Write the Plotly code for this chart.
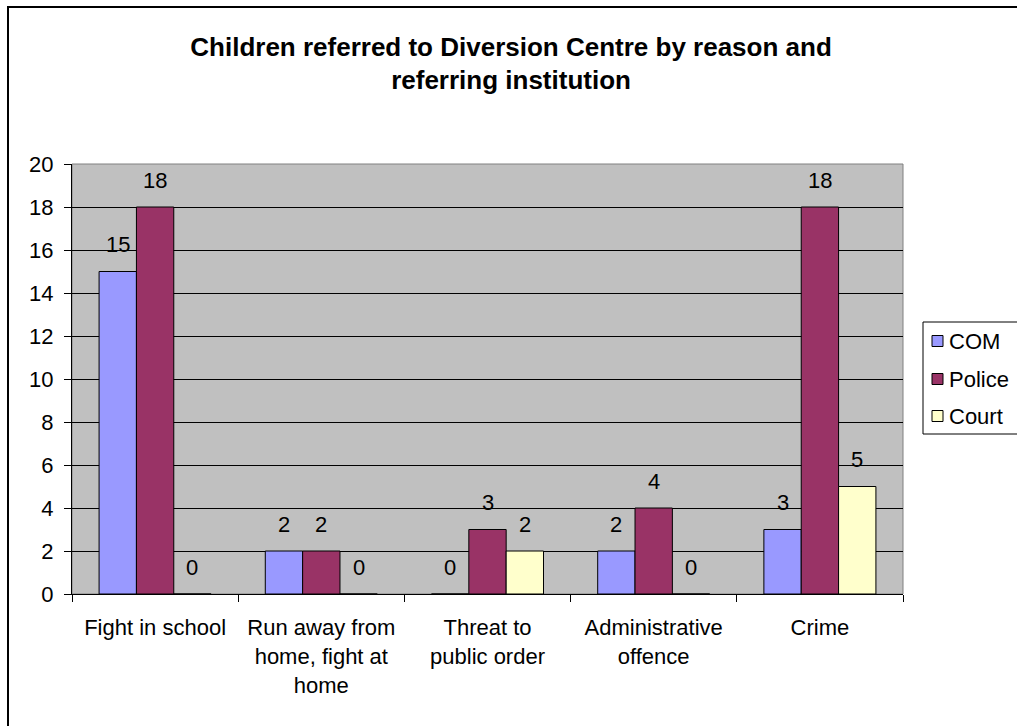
import plotly.graph_objects as go

# Chart data
categories = [
    "Fight in school",
    "Run away from<br>home, fight at<br>home",
    "Threat to<br>public order",
    "Administrative<br>offence",
    "Crime",
]
series_names = ["COM", "Police", "Court"]
com_values = [15, 2, 0, 2, 3]
police_values = [18, 2, 3, 4, 18]
court_values = [0, 0, 2, 0, 5]
y_ticks = [0, 2, 4, 6, 8, 10, 12, 14, 16, 18, 20]

series_values = [com_values, police_values, court_values]
series_colors = ["#9999FF", "#993366", "#FFFFCC"]

FONT = "Arial, Liberation Sans, sans-serif"
W, H = 1017, 726
ML, MR, MT, MB = 72, 114, 164, 132
PW, PH = W - ML - MR, H - MT - MB
BARGAP = 0.326


def px_x(px):
    return (px - ML) / PW


def px_y(py):
    return (H - MB - py) / PH


fig = go.Figure()
for name, vals, color in zip(series_names, series_values, series_colors):
    fig.add_trace(go.Bar(
        name=name, x=categories, y=vals,
        marker=dict(color=color, line=dict(color="black", width=1)),
        showlegend=False,
    ))

# value labels above each bar
bar_w = (1 - BARGAP) / len(series_names)
annotations = []
for si, vals in enumerate(series_values):
    for ci, v in enumerate(vals):
        annotations.append(dict(
            x=ci + (si - 1) * bar_w, y=v, xref="x", yref="y",
            text=str(v), showarrow=False, yshift=27, yanchor="middle",
            font=dict(family=FONT, size=22, color="black"),
        ))

# legend entries
legend_rows = [341, 379, 416]
shapes = []
for name, color, row in zip(series_names, series_colors, legend_rows):
    shapes.append(dict(
        type="rect", xref="paper", yref="paper",
        x0=px_x(932), x1=px_x(943), y0=px_y(row + 5.5), y1=px_y(row - 5.5),
        fillcolor=color, line=dict(color="black", width=1),
    ))
    annotations.append(dict(
        x=px_x(947), y=px_y(row), xref="paper", yref="paper",
        text=name, showarrow=False, xanchor="left", yanchor="middle",
        font=dict(family=FONT, size=22, color="black"),
    ))

# legend frame
shapes.append(dict(
    type="rect", xref="paper", yref="paper",
    x0=px_x(923), x1=px_x(1040), y0=px_y(434), y1=px_y(322),
    line=dict(color="black", width=1), fillcolor="rgba(0,0,0,0)",
))
# plot area frame
shapes.append(dict(
    type="rect", xref="paper", yref="paper", x0=0, x1=1, y0=0, y1=1,
    line=dict(color="#808080", width=1), layer="below",
))
# chart frame
shapes.append(dict(
    type="rect", xref="paper", yref="paper",
    x0=px_x(8), x1=px_x(1040), y0=px_y(745), y1=px_y(7),
    line=dict(color="black", width=2), fillcolor="rgba(0,0,0,0)",
))

fig.update_layout(
    width=W, height=H,
    margin=dict(l=ML, r=MR, t=MT, b=MB, pad=0),
    paper_bgcolor="white", plot_bgcolor="#C0C0C0",
    barmode="group", bargap=BARGAP, bargroupgap=0,
    title=dict(
        text="<b>Children referred to Diversion Centre by reason and<br>referring institution</b>",
        x=0.5025, xref="container", xanchor="center",
        y=1 - 55.5 / H, yref="container", yanchor="middle",
        font=dict(family=FONT, size=26, color="black"),
    ),
    font=dict(family=FONT, color="black"),
    annotations=annotations,
    shapes=shapes,
    xaxis=dict(
        type="category", tickson="boundaries", ticks="outside", ticklen=7,
        tickcolor="black", showline=True, linecolor="black", linewidth=1,
        showgrid=False, ticklabelstandoff=14,
        tickfont=dict(family=FONT, size=22, color="black"),
    ),
    yaxis=dict(
        range=[0, 20], tickvals=y_ticks, ticks="outside", ticklen=7,
        tickcolor="black", showline=True, linecolor="black", linewidth=1,
        showgrid=True, gridcolor="black", gridwidth=1, zeroline=False,
        ticklabelstandoff=6,
        tickfont=dict(family=FONT, size=22, color="black"),
    ),
)

fig.write_html("out.html")
